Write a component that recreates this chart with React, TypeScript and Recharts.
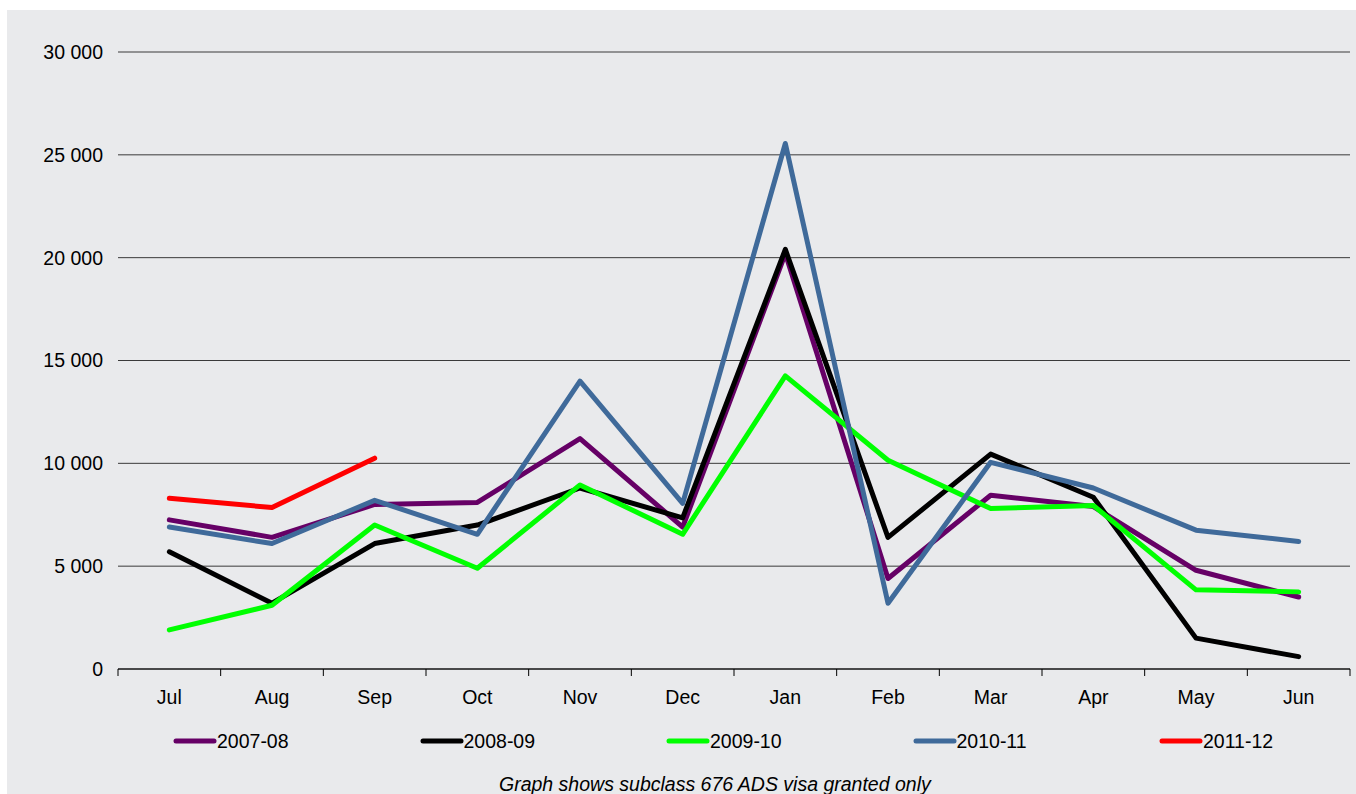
import React from 'react';
import { LineChart, Line, XAxis, YAxis, CartesianGrid, Legend } from 'recharts';

const months = ['Jul', 'Aug', 'Sep', 'Oct', 'Nov', 'Dec', 'Jan', 'Feb', 'Mar', 'Apr', 'May', 'Jun'];
const s2007_08 = [7250, 6400, 8000, 8100, 11200, 6900, 20200, 4400, 8450, 7900, 4800, 3500];
const s2008_09 = [5700, 3200, 6100, 7000, 8800, 7350, 20400, 6400, 10450, 8350, 1500, 600];
const s2009_10 = [1900, 3100, 7000, 4900, 8950, 6550, 14250, 10150, 7800, 7950, 3850, 3750];
const s2010_11 = [6900, 6100, 8200, 6550, 14000, 8050, 25550, 3200, 10050, 8800, 6750, 6200];
const s2011_12: (number | null)[] = [8300, 7850, 10250, null, null, null, null, null, null, null, null, null];
const yTicks = [0, 5000, 10000, 15000, 20000, 25000, 30000];
const footnote = 'Graph shows subclass 676 ADS visa granted only';

const series = [
  { key: '2007-08', values: s2007_08, color: '#660066' },
  { key: '2008-09', values: s2008_09, color: '#000000' },
  { key: '2009-10', values: s2009_10, color: '#00FF00' },
  { key: '2010-11', values: s2010_11, color: '#3F6A9A' },
  { key: '2011-12', values: s2011_12, color: '#FF0000' },
];

const data = months.map((m, i) => {
  const row: Record<string, any> = { month: m };
  series.forEach((s) => {
    row[s.key] = s.values[i];
  });
  return row;
});

const W = 1349;
const H = 784;
const FONT = '"Liberation Sans", Arial, sans-serif';
const FS = 19.5;
const PLOT_LEFT = 111;
const PLOT_RIGHT = 6;
const BAND = (W - PLOT_LEFT - PLOT_RIGHT) / months.length;

const fmt = (v: number) => String(v).replace(/\B(?=(\d{3})+(?!\d))/g, ' ');

const XTick = (props: any) => {
  const { x, y, payload, index } = props;
  const half = BAND / 2;
  return (
    <g>
      <line x1={x - half} x2={x - half} y1={y} y2={y + 7} stroke="#000" strokeWidth={1} />
      {index === months.length - 1 && (
        <line x1={x + half} x2={x + half} y1={y} y2={y + 7} stroke="#000" strokeWidth={1} />
      )}
      <text x={x} y={y + 21} dy="0.71em" textAnchor="middle" fill="#000" fontSize={FS} fontFamily={FONT}>
        {payload.value}
      </text>
    </g>
  );
};

const LegendContent = () => (
  <div style={{ position: 'relative', width: W, height: 30 }}>
    {series.map((s, i) => (
      <div
        key={s.key}
        style={{
          position: 'absolute',
          left: 166 + i * 246.5,
          top: 0,
          height: 30,
          display: 'flex',
          alignItems: 'center',
          fontFamily: FONT,
          fontSize: FS,
          color: '#000',
          whiteSpace: 'nowrap',
        }}
      >
        <svg width={44} height={10} style={{ display: 'block' }}>
          <line x1={3} x2={41} y1={5} y2={5} stroke={s.color} strokeWidth={5} strokeLinecap="round" />
        </svg>
        <span>{s.key}</span>
      </div>
    ))}
  </div>
);

export default function App() {
  return (
    <div
      style={{
        position: 'absolute',
        left: 7,
        top: 10,
        width: W,
        height: H,
        background: '#E9EAEC',
      }}
    >
      <LineChart
        width={W}
        height={H}
        data={data}
        margin={{ top: 42, right: PLOT_RIGHT, left: 0, bottom: 85 }}
      >
        <CartesianGrid vertical={false} horizontal={true} stroke="#3a3a3a" strokeWidth={1} />
        <XAxis
          dataKey="month"
          height={40}
          padding={{ left: BAND / 2, right: BAND / 2 }}
          axisLine={{ stroke: '#000', strokeWidth: 1 }}
          tickLine={false}
          tickSize={0}
          tickMargin={0}
          interval={0}
          tick={<XTick />}
        />
        <YAxis
          width={PLOT_LEFT}
          domain={[0, 30000]}
          ticks={yTicks}
          axisLine={false}
          tickLine={false}
          tickSize={0}
          tickMargin={15}
          tickFormatter={fmt}
          tick={{ fill: '#000', fontSize: FS, fontFamily: FONT }}
        />
        {series.map((s) => (
          <Line
            key={s.key}
            dataKey={s.key}
            name={s.key}
            type="linear"
            stroke={s.color}
            strokeWidth={5}
            strokeLinecap="round"
            strokeLinejoin="round"
            dot={false}
            activeDot={false}
            connectNulls={false}
            isAnimationActive={false}
          />
        ))}
        <Legend
          layout="horizontal"
          verticalAlign="middle"
          align="center"
          wrapperStyle={{ top: 716, left: 0, width: W, height: 30 }}
          content={() => <LegendContent />}
        />
      </LineChart>
      <div
        style={{
          position: 'absolute',
          left: 492,
          top: 762,
          fontFamily: FONT,
          fontSize: FS,
          fontStyle: 'italic',
          color: '#000',
          whiteSpace: 'nowrap',
          lineHeight: '24px',
        }}
      >
        {footnote}
      </div>
    </div>
  );
}
